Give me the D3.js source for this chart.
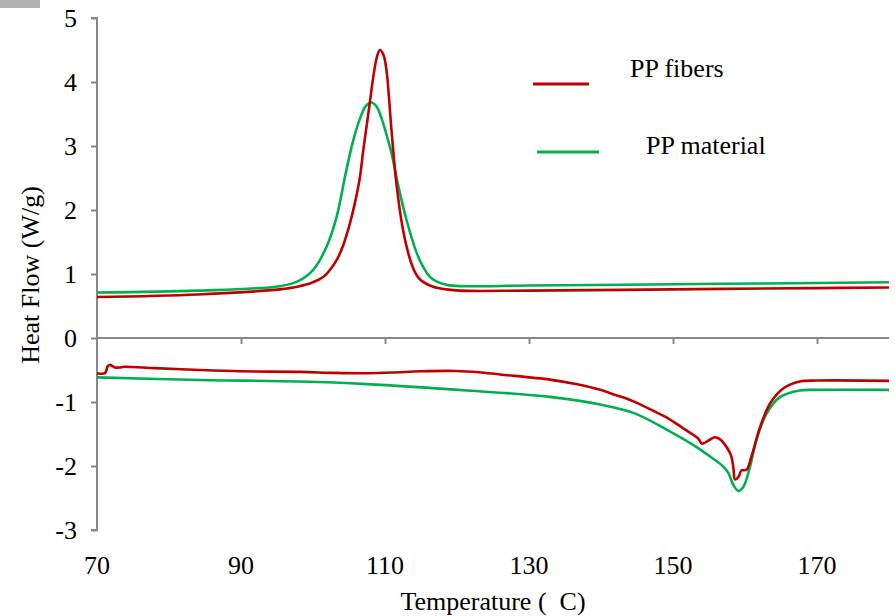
<!DOCTYPE html>
<html>
<head>
<meta charset="utf-8">
<script src="https://cdn.jsdelivr.net/npm/d3@7"></script>
<style>
  html, body { margin: 0; padding: 0; background: #fff; }
  svg { display: block; }
</style>
</head>
<body>
<svg id="chart" width="895" height="616"></svg>
<script>
// DSC curves: temperature (°C) vs heat flow (W/g)
const yTicks = [-3, -2, -1, 0, 1, 2, 3, 4, 5];
const xTicks = [70, 90, 110, 130, 150, 170];
const seriesNames = ["PP fibers", "PP material"];

// Crystallisation (exotherm) – PP fibers
const fibersCoolT = [70, 84, 95.4, 97.8, 100, 101.5, 102.4, 103.3, 104.2, 105.1, 105.8, 106.5, 107.0, 107.8, 108.4, 108.9, 109.3, 109.8, 110.2, 110.9, 111.6, 112.5, 113.5, 114.2, 114.9, 116.7, 118.5, 120.4, 130, 150, 170, 180];
const fibersCoolQ = [0.64, 0.68, 0.76, 0.80, 0.87, 0.96, 1.07, 1.22, 1.45, 1.78, 2.10, 2.50, 2.95, 3.60, 4.10, 4.40, 4.50, 4.42, 4.19, 3.25, 2.40, 1.69, 1.22, 1.02, 0.91, 0.80, 0.76, 0.74, 0.74, 0.76, 0.78, 0.79];

// Crystallisation (exotherm) – PP material
const materialCoolT = [70, 84, 95.4, 97.8, 100, 101.9, 103.3, 104.5, 105.5, 106.5, 107.3, 108.1, 108.8, 109.5, 110.2, 110.9, 111.8, 113.0, 114.4, 115.3, 116.2, 117.2, 118.6, 120.4, 130, 150, 170, 180];
const materialCoolQ = [0.71, 0.74, 0.81, 0.88, 1.06, 1.43, 1.90, 2.55, 3.05, 3.42, 3.62, 3.68, 3.62, 3.44, 3.18, 2.89, 2.40, 1.84, 1.33, 1.11, 0.96, 0.88, 0.83, 0.81, 0.82, 0.84, 0.86, 0.87];

// Melting (endotherm) – PP fibers
const fibersHeatT = [70, 71.1, 71.5, 71.8, 72.5, 73.2, 73.7, 78, 84.3, 90, 98.2, 103, 107.5, 111, 115, 119.9, 123, 126, 132.9, 136.5, 139.9, 142, 144.5, 148.2, 149.1, 151.4, 153.5, 154.0, 155.1, 155.8, 156.5, 157.7, 158.1, 158.4, 158.6, 159.1, 159.5, 160.2, 160.9, 162.1, 163.5, 165.3, 167.6, 170, 180];
const fibersHeatQ = [-0.55, -0.55, -0.44, -0.42, -0.46, -0.46, -0.45, -0.47, -0.50, -0.52, -0.53, -0.545, -0.55, -0.54, -0.52, -0.515, -0.535, -0.57, -0.65, -0.72, -0.81, -0.89, -0.99, -1.19, -1.24, -1.41, -1.57, -1.65, -1.59, -1.55, -1.58, -1.75, -1.85, -2.04, -2.21, -2.17, -2.07, -2.06, -1.85, -1.39, -1.02, -0.79, -0.68, -0.665, -0.67];

// Melting (endotherm) – PP material
const materialHeatT = [70, 84.3, 98.2, 107.5, 121.4, 132.9, 139.9, 144.5, 149.1, 152.8, 155.0, 157.0, 157.7, 158.4, 159.1, 159.8, 160.7, 161.6, 163.0, 164.9, 167.6, 170, 180];
const materialHeatQ = [-0.615, -0.656, -0.68, -0.72, -0.82, -0.92, -1.04, -1.17, -1.43, -1.67, -1.84, -2.01, -2.11, -2.30, -2.39, -2.32, -2.01, -1.59, -1.18, -0.92, -0.82, -0.81, -0.81];

const colors = { fibers: "#C00000", material: "#00B050" };
const axisColor = "#888888";
const serif = "'Liberation Serif', 'Times New Roman', Tinos, Times, 'Noto Serif', 'DejaVu Serif', serif";
const fontSize = "26px";

const svg = d3.select("#chart");

// small grey patch in the top-left corner
svg.append("rect").attr("x", 0).attr("y", 0).attr("width", 40).attr("height", 8)
  .attr("fill", "#9a9a9a").attr("opacity", 0.75);

const x = d3.scaleLinear().domain([70, 180]).range([97, 889]);
const y = d3.scaleLinear().domain([-3, 5]).range([530, 18]);

// y axis
const yAxis = svg.append("g")
  .attr("transform", `translate(${x(70)},0)`)
  .call(d3.axisLeft(y).tickValues(yTicks).tickSize(6).tickPadding(14).tickFormat(d3.format("d")));
yAxis.attr("font-family", null).attr("font-size", null);
yAxis.select(".domain").attr("stroke", axisColor).attr("stroke-width", 2).attr("d", `M-6,${y(5)}H0V${y(-3)}H-6`);
yAxis.selectAll(".tick line").attr("stroke", axisColor).attr("stroke-width", 2);
yAxis.selectAll(".tick text")
  .style("font-family", serif).style("font-size", fontSize).attr("fill", "#000")
  .text(d => d < 0 ? "-" + Math.abs(d) : d);

// x axis line at zero heat flow, ticks pointing down
const xAxis = svg.append("g")
  .attr("transform", `translate(0,${y(0)})`)
  .call(d3.axisBottom(x).tickValues(xTicks.slice(1)).tickSize(6).tickFormat(""));
xAxis.select(".domain").attr("stroke", axisColor).attr("stroke-width", 2).attr("d", `M${x(70)},0H${x(180)}`);
xAxis.selectAll(".tick line").attr("stroke", axisColor).attr("stroke-width", 2);

// x tick labels along the bottom of the plot
svg.append("g").selectAll("text").data(xTicks).join("text")
  .attr("x", d => x(d)).attr("y", y(-3) + 44)
  .attr("text-anchor", "middle")
  .style("font-family", serif).style("font-size", fontSize)
  .text(d => d);

// axis titles
svg.append("text")
  .attr("transform", `translate(39,${275}) rotate(-90)`)
  .attr("text-anchor", "middle")
  .style("font-family", serif).style("font-size", fontSize)
  .text("Heat Flow (W/g)");

svg.append("text")
  .attr("x", 493).attr("y", 610)
  .attr("text-anchor", "middle")
  .style("font-family", serif).style("font-size", fontSize)
  .style("white-space", "pre")
  .text("Temperature (  C)");

// curves
const line = d3.line().x(d => x(d[0])).y(d => y(d[1])).curve(d3.curveCatmullRom.alpha(0.5));
const zip = (a, b) => a.map((v, i) => [v, b[i]]);

const curves = [
  { pts: zip(materialCoolT, materialCoolQ), c: colors.material },
  { pts: zip(fibersCoolT, fibersCoolQ), c: colors.fibers },
  { pts: zip(materialHeatT, materialHeatQ), c: colors.material },
  { pts: zip(fibersHeatT, fibersHeatQ), c: colors.fibers }
];
svg.append("g").selectAll("path").data(curves).join("path")
  .attr("d", d => line(d.pts))
  .attr("fill", "none")
  .attr("stroke", d => d.c)
  .attr("stroke-width", 2.6)
  .attr("stroke-linejoin", "round");

// legend
const legend = [
  { name: seriesNames[0], c: colors.fibers, x1: 533, x2: 589, ly: 84, tx: 630, ty: 77 },
  { name: seriesNames[1], c: colors.material, x1: 537, x2: 599, ly: 152, tx: 646, ty: 154 }
];
const lg = svg.append("g");
legend.forEach(l => {
  lg.append("line").attr("x1", l.x1).attr("x2", l.x2).attr("y1", l.ly).attr("y2", l.ly)
    .attr("stroke", l.c).attr("stroke-width", 3);
  lg.append("text").attr("x", l.tx).attr("y", l.ty)
    .style("font-family", serif).style("font-size", fontSize)
    .text(l.name);
});
</script>
</body>
</html>
